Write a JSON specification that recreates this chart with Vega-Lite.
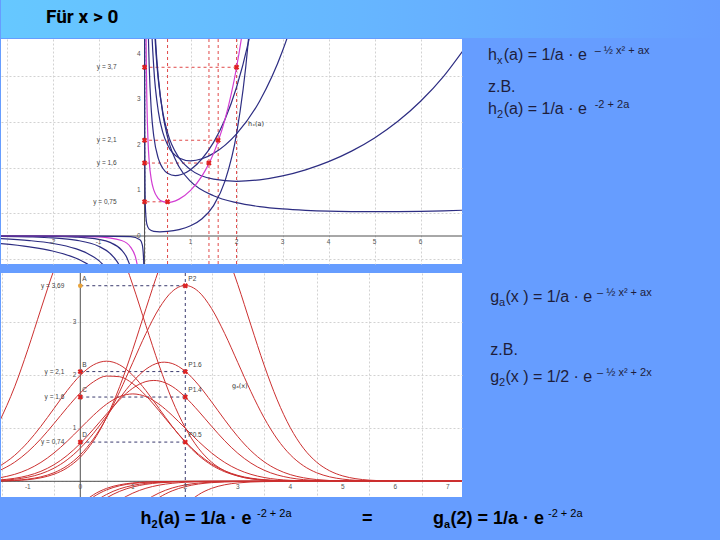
{
"$schema": "https://vega.github.io/schema/vega-lite/v6.json",
"background": "#669dff",
"padding": {"left": 0, "right": 0, "top": 0, "bottom": 0},
"config": {
  "view": {"stroke": null},
  "axis": {"labels": false, "ticks": false, "domain": false, "grid": true, "gridColor": "#d2d2d2", "gridDash": [2, 2], "gridWidth": 1},
  "concat": {"spacing": 0}
},
"spacing": 0,
"datasets": {
  "hx": [
    {"x":"0.2","b":"p","a":0.15,"h":6.73},{"x":"0.2","b":"p","a":0.2,"h":5.1},{"x":"0.2","b":"p","a":0.25,"h":4.12},{"x":"0.2","b":"p","a":0.3,"h":3.47},{"x":"0.2","b":"p","a":0.4,"h":2.654},{"x":"0.2","b":"p","a":0.5,"h":2.166},{"x":"0.2","b":"p","a":0.75,"h":1.518},{"x":"0.2","b":"p","a":1,"h":1.197},{"x":"0.2","b":"p","a":1.5,"h":0.882},{"x":"0.2","b":"p","a":2,"h":0.731},{"x":"0.2","b":"p","a":2.5,"h":0.646},{"x":"0.2","b":"p","a":3,"h":0.595},{"x":"0.2","b":"p","a":3.5,"h":0.564},{"x":"0.2","b":"p","a":4,"h":0.545},{"x":"0.2","b":"p","a":4.5,"h":0.536},{"x":"0.2","b":"p","a":5,"h":0.533},{"x":"0.2","b":"p","a":5.5,"h":0.535},{"x":"0.2","b":"p","a":6,"h":0.542},{"x":"0.2","b":"p","a":6.5,"h":0.553},{"x":"0.2","b":"p","a":7,"h":0.568},
    {"x":"0.2","b":"n","a":-3.2,"h":-0.162},{"x":"0.2","b":"n","a":-2.5,"h":-0.238},{"x":"0.2","b":"n","a":-2,"h":-0.328},{"x":"0.2","b":"n","a":-1.5,"h":-0.484},{"x":"0.2","b":"n","a":-1.25,"h":-0.611},{"x":"0.2","b":"n","a":-1,"h":-0.802},
    {"x":"0.5","b":"p","a":0.15,"h":6.34},{"x":"0.5","b":"p","a":0.2,"h":4.877},{"x":"0.5","b":"p","a":0.25,"h":4.0},{"x":"0.5","b":"p","a":0.3,"h":3.418},{"x":"0.5","b":"p","a":0.4,"h":2.695},{"x":"0.5","b":"p","a":0.5,"h":2.266},{"x":"0.5","b":"p","a":0.75,"h":1.712},{"x":"0.5","b":"p","a":1,"h":1.455},{"x":"0.5","b":"p","a":1.5,"h":1.246},{"x":"0.5","b":"p","a":2,"h":1.199},{"x":"0.5","b":"p","a":2.5,"h":1.232},{"x":"0.5","b":"p","a":3,"h":1.318},{"x":"0.5","b":"p","a":3.5,"h":1.451},{"x":"0.5","b":"p","a":4,"h":1.63},{"x":"0.5","b":"p","a":4.5,"h":1.861},{"x":"0.5","b":"p","a":5,"h":2.15},{"x":"0.5","b":"p","a":5.5,"h":2.51},{"x":"0.5","b":"p","a":6,"h":2.954},{"x":"0.5","b":"p","a":6.5,"h":3.501},{"x":"0.5","b":"p","a":7,"h":4.175},
    {"x":"0.5","b":"n","a":-3.2,"h":-0.0557},{"x":"0.5","b":"n","a":-2.5,"h":-0.1011},{"x":"0.5","b":"n","a":-2,"h":-0.1623},{"x":"0.5","b":"n","a":-1.5,"h":-0.2779},{"x":"0.5","b":"n","a":-1.25,"h":-0.378},{"x":"0.5","b":"n","a":-1,"h":-0.535},{"x":"0.5","b":"n","a":-0.8,"h":-0.739},
    {"x":"1","b":"p","a":0.1,"h":6.7},{"x":"1","b":"p","a":0.15,"h":4.698},{"x":"1","b":"p","a":0.2,"h":3.704},{"x":"1","b":"p","a":0.3,"h":2.729},{"x":"1","b":"p","a":0.4,"h":2.262},{"x":"1","b":"p","a":0.5,"h":2.0},{"x":"1","b":"p","a":0.75,"h":1.712},{"x":"1","b":"p","a":1,"h":1.649},{"x":"1","b":"p","a":1.25,"h":1.694},{"x":"1","b":"p","a":1.5,"h":1.812},{"x":"1","b":"p","a":2,"h":2.241},{"x":"1","b":"p","a":2.5,"h":2.955},{"x":"1","b":"p","a":3,"h":4.061},{"x":"1","b":"p","a":3.25,"h":4.813},{"x":"1","b":"p","a":3.5,"h":5.74},
    {"x":"1","b":"n","a":-3.2,"h":-0.0077},{"x":"1","b":"n","a":-2.5,"h":-0.0199},{"x":"1","b":"n","a":-2,"h":-0.041},{"x":"1","b":"n","a":-1.5,"h":-0.0902},{"x":"1","b":"n","a":-1,"h":-0.2231},{"x":"1","b":"n","a":-0.75,"h":-0.382},{"x":"1","b":"n","a":-0.6,"h":-0.5548},{"x":"1","b":"n","a":-0.5,"h":-0.7358},
    {"x":"1.5","b":"p","a":0.05,"h":7.0},{"x":"1.5","b":"p","a":0.075,"h":4.845},{"x":"1.5","b":"p","a":0.1,"h":3.772},{"x":"1.5","b":"p","a":0.15,"h":2.711},{"x":"1.5","b":"p","a":0.2,"h":2.192},{"x":"1.5","b":"p","a":0.3,"h":1.698},{"x":"1.5","b":"p","a":0.4,"h":1.479},{"x":"1.5","b":"p","a":0.5,"h":1.375},{"x":"1.5","b":"p","a":0.667,"h":1.323},{"x":"1.5","b":"p","a":0.8,"h":1.348},{"x":"1.5","b":"p","a":1,"h":1.455},{"x":"1.5","b":"p","a":1.25,"h":1.694},{"x":"1.5","b":"p","a":1.5,"h":2.054},{"x":"1.5","b":"p","a":1.75,"h":2.561},{"x":"1.5","b":"p","a":2,"h":3.261},{"x":"1.5","b":"p","a":2.25,"h":4.217},{"x":"1.5","b":"p","a":2.5,"h":5.522},
    {"x":"1.5","b":"n","a":-3.2,"h":-0.0008},{"x":"1.5","b":"n","a":-2,"h":-0.0081},{"x":"1.5","b":"n","a":-1.5,"h":-0.0228},{"x":"1.5","b":"n","a":-1,"h":-0.0724},{"x":"1.5","b":"n","a":-0.75,"h":-0.1406},{"x":"1.5","b":"n","a":-0.5,"h":-0.3068},{"x":"1.5","b":"n","a":-0.4,"h":-0.4455},{"x":"1.5","b":"n","a":-0.3,"h":-0.69},
    {"x":"2","b":"p","a":0.02,"h":7.04},{"x":"2","b":"p","a":0.03,"h":4.79},{"x":"2","b":"p","a":0.04,"h":3.665},{"x":"2","b":"p","a":0.05,"h":2.992},{"x":"2","b":"p","a":0.075,"h":2.097},{"x":"2","b":"p","a":0.1,"h":1.653},{"x":"2","b":"p","a":0.15,"h":1.218},{"x":"2","b":"p","a":0.2,"h":1.01},{"x":"2","b":"p","a":0.3,"h":0.822},{"x":"2","b":"p","a":0.4,"h":0.753},{"x":"2","b":"p","a":0.5,"h":0.736},{"x":"2","b":"p","a":0.6,"h":0.749},{"x":"2","b":"p","a":0.75,"h":0.809},{"x":"2","b":"p","a":1,"h":1.0},{"x":"2","b":"p","a":1.25,"h":1.319},{"x":"2","b":"p","a":1.4,"h":1.59},{"x":"2","b":"p","a":1.5,"h":1.812},{"x":"2","b":"p","a":1.6,"h":2.075},{"x":"2","b":"p","a":1.75,"h":2.561},{"x":"2","b":"p","a":2,"h":3.695},{"x":"2","b":"p","a":2.1,"h":4.298},{"x":"2","b":"p","a":2.2,"h":5.011},
    {"x":"2","b":"n","a":-3.2,"h":0},{"x":"2","b":"n","a":-2,"h":-0.0012},{"x":"2","b":"n","a":-1,"h":-0.0183},{"x":"2","b":"n","a":-0.5,"h":-0.0996},{"x":"2","b":"n","a":-0.3,"h":-0.2476},{"x":"2","b":"n","a":-0.2,"h":-0.4536},{"x":"2","b":"n","a":-0.15,"h":-0.6684},
    {"x":"3","b":"p","a":0.002,"h":5.57},{"x":"3","b":"p","a":0.0025,"h":4.477},{"x":"3","b":"p","a":0.003,"h":3.736},{"x":"3","b":"p","a":0.005,"h":2.255},{"x":"3","b":"p","a":0.01,"h":1.145},{"x":"3","b":"p","a":0.02,"h":0.59},{"x":"3","b":"p","a":0.05,"h":0.258},{"x":"3","b":"p","a":0.1,"h":0.15},{"x":"3","b":"p","a":0.2,"h":0.101},{"x":"3","b":"p","a":0.333,"h":0.0906},{"x":"3","b":"p","a":0.5,"h":0.0996},{"x":"3","b":"p","a":0.75,"h":0.1405},{"x":"3","b":"p","a":1,"h":0.2231},{"x":"3","b":"p","a":1.25,"h":0.378},{"x":"3","b":"p","a":1.5,"h":0.667},{"x":"3","b":"p","a":1.75,"h":1.21},{"x":"3","b":"p","a":2,"h":2.241},{"x":"3","b":"p","a":2.25,"h":4.217},{"x":"3","b":"p","a":2.4,"h":6.2},
    {"x":"3","b":"n","a":-3.2,"h":0},{"x":"3","b":"n","a":-1,"h":-0.0006},{"x":"3","b":"n","a":-0.3,"h":-0.0151},{"x":"3","b":"n","a":-0.1,"h":-0.0823},{"x":"3","b":"n","a":-0.05,"h":-0.191},{"x":"3","b":"n","a":-0.02,"h":-0.523},{"x":"3","b":"n","a":-0.01,"h":-1.08}
  ],
  "gx": [
    {"a":"0.2","x":-1.55,"g":1.103},{"a":"0.2","x":-1.25,"g":1.783},{"a":"0.2","x":-1,"g":2.483},{"a":"0.2","x":-0.75,"g":3.248},{"a":"0.2","x":-0.5,"g":3.992},{"a":"0.2","x":-0.25,"g":4.61},{"a":"0.2","x":0,"g":5},{"a":"0.2","x":0.25,"g":5.095},{"a":"0.2","x":0.5,"g":4.876},{"a":"0.2","x":0.75,"g":4.385},{"a":"0.2","x":1,"g":3.704},{"a":"0.2","x":1.25,"g":2.939},{"a":"0.2","x":1.5,"g":2.191},{"a":"0.2","x":1.75,"g":1.534},{"a":"0.2","x":2,"g":1.009},{"a":"0.2","x":2.25,"g":0.624},{"a":"0.2","x":2.5,"g":0.362},{"a":"0.2","x":2.75,"g":0.1975},{"a":"0.2","x":3,"g":0.1012},{"a":"0.2","x":3.5,"g":0.022},{"a":"0.2","x":4,"g":0.0037},{"a":"0.2","x":5,"g":0},{"a":"0.2","x":7.3,"g":0},
    {"a":"0.5","x":-1.55,"g":0.2771},{"a":"0.5","x":-1.25,"g":0.49},{"a":"0.5","x":-1,"g":0.7357},{"a":"0.5","x":-0.75,"g":1.0375},{"a":"0.5","x":-0.5,"g":1.3745},{"a":"0.5","x":-0.25,"g":1.7106},{"a":"0.5","x":0,"g":2},{"a":"0.5","x":0.25,"g":2.1965},{"a":"0.5","x":0.5,"g":2.2663},{"a":"0.5","x":0.75,"g":2.1965},{"a":"0.5","x":1,"g":2},{"a":"0.5","x":1.25,"g":1.7106},{"a":"0.5","x":1.5,"g":1.3745},{"a":"0.5","x":1.75,"g":1.0375},{"a":"0.5","x":2,"g":0.7358},{"a":"0.5","x":2.25,"g":0.49},{"a":"0.5","x":2.5,"g":0.3067},{"a":"0.5","x":2.75,"g":0.1803},{"a":"0.5","x":3,"g":0.0996},{"a":"0.5","x":3.5,"g":0.0252},{"a":"0.5","x":4,"g":0.005},{"a":"0.5","x":4.5,"g":0.0007},{"a":"0.5","x":5,"g":0},{"a":"0.5","x":7.3,"g":0},
    {"a":"0.6","x":-1.55,"g":0.1978},{"a":"0.6","x":-1.25,"g":0.3604},{"a":"0.6","x":-1,"g":0.5548},{"a":"0.6","x":-0.75,"g":0.8021},{"a":"0.6","x":-0.5,"g":1.0896},{"a":"0.6","x":-0.25,"g":1.3904},{"a":"0.6","x":0,"g":1.6667},{"a":"0.6","x":0.25,"g":1.8768},{"a":"0.6","x":0.5,"g":1.9853},{"a":"0.6","x":0.75,"g":1.973},{"a":"0.6","x":1,"g":1.842},{"a":"0.6","x":1.25,"g":1.6154},{"a":"0.6","x":1.5,"g":1.3308},{"a":"0.6","x":1.75,"g":1.03},{"a":"0.6","x":2,"g":0.7489},{"a":"0.6","x":2.25,"g":0.5115},{"a":"0.6","x":2.5,"g":0.3282},{"a":"0.6","x":2.75,"g":0.1978},{"a":"0.6","x":3,"g":0.112},{"a":"0.6","x":3.5,"g":0.0298},{"a":"0.6","x":4,"g":0.0062},{"a":"0.6","x":4.5,"g":0.001},{"a":"0.6","x":5,"g":0},{"a":"0.6","x":7.3,"g":0},
    {"a":"1","x":-1.55,"g":0.0639},{"a":"1","x":-1.25,"g":0.1312},{"a":"1","x":-1,"g":0.2231},{"a":"1","x":-0.75,"g":0.3566},{"a":"1","x":-0.5,"g":0.5353},{"a":"1","x":-0.25,"g":0.7548},{"a":"1","x":0,"g":1},{"a":"1","x":0.25,"g":1.2445},{"a":"1","x":0.5,"g":1.455},{"a":"1","x":0.75,"g":1.598},{"a":"1","x":1,"g":1.6487},{"a":"1","x":1.25,"g":1.598},{"a":"1","x":1.5,"g":1.455},{"a":"1","x":1.75,"g":1.2445},{"a":"1","x":2,"g":1},{"a":"1","x":2.25,"g":0.7548},{"a":"1","x":2.5,"g":0.5353},{"a":"1","x":2.75,"g":0.3566},{"a":"1","x":3,"g":0.2231},{"a":"1","x":3.25,"g":0.1312},{"a":"1","x":3.5,"g":0.0724},{"a":"1","x":4,"g":0.0183},{"a":"1","x":4.5,"g":0.0036},{"a":"1","x":5,"g":0.0006},{"a":"1","x":5.5,"g":0},{"a":"1","x":7.3,"g":0},
    {"a":"1.4","x":-1.55,"g":0.0245},{"a":"1.4","x":-1.25,"g":0.0568},{"a":"1.4","x":-1,"g":0.1068},{"a":"1.4","x":-0.75,"g":0.1887},{"a":"1.4","x":-0.5,"g":0.313},{"a":"1.4","x":-0.25,"g":0.4878},{"a":"1.4","x":0,"g":0.7143},{"a":"1.4","x":0.25,"g":0.9824},{"a":"1.4","x":0.5,"g":1.2693},{"a":"1.4","x":0.75,"g":1.5408},{"a":"1.4","x":1,"g":1.7568},{"a":"1.4","x":1.25,"g":1.882},{"a":"1.4","x":1.4,"g":1.903},{"a":"1.4","x":1.5,"g":1.8937},{"a":"1.4","x":1.75,"g":1.7902},{"a":"1.4","x":2,"g":1.5897},{"a":"1.4","x":2.25,"g":1.3262},{"a":"1.4","x":2.5,"g":1.0393},{"a":"1.4","x":2.75,"g":0.765},{"a":"1.4","x":3,"g":0.5291},{"a":"1.4","x":3.25,"g":0.3438},{"a":"1.4","x":3.5,"g":0.2098},{"a":"1.4","x":3.75,"g":0.1203},{"a":"1.4","x":4,"g":0.0648},{"a":"1.4","x":4.5,"g":0.0156},{"a":"1.4","x":5,"g":0.0029},{"a":"1.4","x":5.5,"g":0.0004},{"a":"1.4","x":6,"g":0},{"a":"1.4","x":7.3,"g":0},
    {"a":"1.6","x":-1.55,"g":0.0157},{"a":"1.6","x":-1.25,"g":0.0387},{"a":"1.6","x":-1,"g":0.0765},{"a":"1.6","x":-0.75,"g":0.1421},{"a":"1.6","x":-0.5,"g":0.2478},{"a":"1.6","x":-0.25,"g":0.406},{"a":"1.6","x":0,"g":0.625},{"a":"1.6","x":0.25,"g":0.9037},{"a":"1.6","x":0.5,"g":1.2275},{"a":"1.6","x":0.75,"g":1.5664},{"a":"1.6","x":1,"g":1.8776},{"a":"1.6","x":1.25,"g":2.1145},{"a":"1.6","x":1.5,"g":2.2367},{"a":"1.6","x":1.6,"g":2.2479},{"a":"1.6","x":1.75,"g":2.2228},{"a":"1.6","x":2,"g":2.0751},{"a":"1.6","x":2.25,"g":1.8199},{"a":"1.6","x":2.5,"g":1.4993},{"a":"1.6","x":2.75,"g":1.1604},{"a":"1.6","x":3,"g":0.8437},{"a":"1.6","x":3.25,"g":0.5762},{"a":"1.6","x":3.5,"g":0.3697},{"a":"1.6","x":3.75,"g":0.2229},{"a":"1.6","x":4,"g":0.1262},{"a":"1.6","x":4.25,"g":0.0671},{"a":"1.6","x":4.5,"g":0.0335},{"a":"1.6","x":5,"g":0.0069},{"a":"1.6","x":5.5,"g":0.0011},{"a":"1.6","x":6,"g":0},{"a":"1.6","x":7.3,"g":0},
    {"a":"2","x":-1.55,"g":0.0068},{"a":"2","x":-1.25,"g":0.0188},{"a":"2","x":-1,"g":0.041},{"a":"2","x":-0.75,"g":0.0842},{"a":"2","x":-0.5,"g":0.1623},{"a":"2","x":-0.25,"g":0.2939},{"a":"2","x":0,"g":0.5},{"a":"2","x":0.25,"g":0.799},{"a":"2","x":0.5,"g":1.1995},{"a":"2","x":0.75,"g":1.6914},{"a":"2","x":1,"g":2.2408},{"a":"2","x":1.25,"g":2.7888},{"a":"2","x":1.5,"g":3.2606},{"a":"2","x":1.75,"g":3.5811},{"a":"2","x":2,"g":3.6945},{"a":"2","x":2.25,"g":3.5811},{"a":"2","x":2.5,"g":3.2606},{"a":"2","x":2.75,"g":2.7888},{"a":"2","x":3,"g":2.2408},{"a":"2","x":3.25,"g":1.6914},{"a":"2","x":3.5,"g":1.1995},{"a":"2","x":3.75,"g":0.799},{"a":"2","x":4,"g":0.5},{"a":"2","x":4.25,"g":0.2939},{"a":"2","x":4.5,"g":0.1623},{"a":"2","x":4.75,"g":0.0842},{"a":"2","x":5,"g":0.041},{"a":"2","x":5.25,"g":0.0188},{"a":"2","x":5.5,"g":0.0081},{"a":"2","x":6,"g":0.0012},{"a":"2","x":6.5,"g":0.0001},{"a":"2","x":7.3,"g":0},
    {"a":"2.2","x":-1.55,"g":0.0045},{"a":"2.2","x":-1.25,"g":0.0133},{"a":"2.2","x":-1,"g":0.0306},{"a":"2.2","x":-0.75,"g":0.0659},{"a":"2.2","x":-0.5,"g":0.1335},{"a":"2.2","x":-0.25,"g":0.2542},{"a":"2.2","x":0,"g":0.4545},{"a":"2.2","x":0.25,"g":0.7635},{"a":"2.2","x":0.5,"g":1.205},{"a":"2.2","x":0.75,"g":1.7866},{"a":"2.2","x":1,"g":2.488},{"a":"2.2","x":1.25,"g":3.2554},{"a":"2.2","x":1.5,"g":4.0008},{"a":"2.2","x":1.75,"g":4.62},{"a":"2.2","x":2,"g":5.01},{"a":"2.2","x":2.25,"g":5.105},{"a":"2.2","x":2.5,"g":4.887},{"a":"2.2","x":2.75,"g":4.394},{"a":"2.2","x":3,"g":3.7117},{"a":"2.2","x":3.25,"g":2.9455},{"a":"2.2","x":3.5,"g":2.1958},{"a":"2.2","x":3.75,"g":1.5377},{"a":"2.2","x":4,"g":1.0116},{"a":"2.2","x":4.25,"g":0.6251},{"a":"2.2","x":4.5,"g":0.363},{"a":"2.2","x":4.75,"g":0.198},{"a":"2.2","x":5,"g":0.1014},{"a":"2.2","x":5.25,"g":0.0488},{"a":"2.2","x":5.5,"g":0.0221},{"a":"2.2","x":6,"g":0.0037},{"a":"2.2","x":6.5,"g":0.0005},{"a":"2.2","x":7.3,"g":0},
    {"a":"-0.2","x":1.75,"g":-0.762},{"a":"-0.2","x":2,"g":-0.4536},{"a":"-0.2","x":2.25,"g":-0.2536},{"a":"-0.2","x":2.5,"g":-0.1332},{"a":"-0.2","x":2.75,"g":-0.0657},{"a":"-0.2","x":3,"g":-0.0305},{"a":"-0.2","x":3.5,"g":-0.0054},{"a":"-0.2","x":4,"g":-0.0008},{"a":"-0.2","x":4.5,"g":0},{"a":"-0.2","x":7.3,"g":0},
    {"a":"-0.5","x":1,"g":-0.7358},{"a":"-0.5","x":1.25,"g":-0.4902},{"a":"-0.5","x":1.5,"g":-0.3067},{"a":"-0.5","x":1.75,"g":-0.1803},{"a":"-0.5","x":2,"g":-0.0996},{"a":"-0.5","x":2.25,"g":-0.0516},{"a":"-0.5","x":2.5,"g":-0.0252},{"a":"-0.5","x":3,"g":-0.005},{"a":"-0.5","x":3.5,"g":-0.0008},{"a":"-0.5","x":4,"g":0},{"a":"-0.5","x":7.3,"g":0},
    {"a":"-0.6","x":1,"g":-0.5548},{"a":"-0.6","x":1.25,"g":-0.3604},{"a":"-0.6","x":1.5,"g":-0.22},{"a":"-0.6","x":1.75,"g":-0.1261},{"a":"-0.6","x":2,"g":-0.0679},{"a":"-0.6","x":2.5,"g":-0.0163},{"a":"-0.6","x":3,"g":-0.0031},{"a":"-0.6","x":3.5,"g":-0.0005},{"a":"-0.6","x":4,"g":0},{"a":"-0.6","x":7.3,"g":0},
    {"a":"-1","x":0.25,"g":-0.7548},{"a":"-1","x":0.5,"g":-0.5353},{"a":"-1","x":0.75,"g":-0.3566},{"a":"-1","x":1,"g":-0.2231},{"a":"-1","x":1.25,"g":-0.1312},{"a":"-1","x":1.5,"g":-0.0724},{"a":"-1","x":1.75,"g":-0.0376},{"a":"-1","x":2,"g":-0.0183},{"a":"-1","x":2.5,"g":-0.0036},{"a":"-1","x":3,"g":-0.0006},{"a":"-1","x":3.5,"g":0},{"a":"-1","x":7.3,"g":0},
    {"a":"-1.4","x":0,"g":-0.7143},{"a":"-1.4","x":0.25,"g":-0.4878},{"a":"-1.4","x":0.5,"g":-0.313},{"a":"-1.4","x":0.75,"g":-0.1887},{"a":"-1.4","x":1,"g":-0.1068},{"a":"-1.4","x":1.25,"g":-0.0568},{"a":"-1.4","x":1.5,"g":-0.0284},{"a":"-1.4","x":1.75,"g":-0.0133},{"a":"-1.4","x":2,"g":-0.0059},{"a":"-1.4","x":2.5,"g":-0.001},{"a":"-1.4","x":3,"g":0},{"a":"-1.4","x":7.3,"g":0},
    {"a":"-1.6","x":0,"g":-0.625},{"a":"-1.6","x":0.25,"g":-0.406},{"a":"-1.6","x":0.5,"g":-0.2478},{"a":"-1.6","x":0.75,"g":-0.1421},{"a":"-1.6","x":1,"g":-0.0765},{"a":"-1.6","x":1.25,"g":-0.0387},{"a":"-1.6","x":1.5,"g":-0.0184},{"a":"-1.6","x":2,"g":-0.0035},{"a":"-1.6","x":2.5,"g":-0.0005},{"a":"-1.6","x":3,"g":0},{"a":"-1.6","x":7.3,"g":0},
    {"a":"-2","x":0,"g":-0.5},{"a":"-2","x":0.1,"g":-0.407},{"a":"-2","x":0.25,"g":-0.2939},{"a":"-2","x":0.5,"g":-0.1623},{"a":"-2","x":0.75,"g":-0.0842},{"a":"-2","x":1,"g":-0.041},{"a":"-2","x":1.25,"g":-0.0188},{"a":"-2","x":1.5,"g":-0.0081},{"a":"-2","x":2,"g":-0.0012},{"a":"-2","x":2.5,"g":-0.0001},{"a":"-2","x":3,"g":0},{"a":"-2","x":7.3,"g":0},
    {"a":"-2.2","x":0,"g":-0.4545},{"a":"-2.2","x":0.1,"g":-0.363},{"a":"-2.2","x":0.25,"g":-0.2542},{"a":"-2.2","x":0.5,"g":-0.1335},{"a":"-2.2","x":0.75,"g":-0.0659},{"a":"-2.2","x":1,"g":-0.0306},{"a":"-2.2","x":1.25,"g":-0.0133},{"a":"-2.2","x":1.5,"g":-0.0054},{"a":"-2.2","x":2,"g":-0.0008},{"a":"-2.2","x":3,"g":0},{"a":"-2.2","x":7.3,"g":0}
  ],
  "hg": [
    {"a":2,"h":3.7,"yl":"y = 3,7"},{"a":1.6,"h":2.1,"yl":"y = 2,1"},{"a":1.4,"h":1.6,"yl":"y = 1,6"},{"a":0.5,"h":0.75,"yl":"y = 0,75"}
  ],
  "gg": [
    {"x":2,"g":3.69,"pl":"P2","yl":"y = 3,69","ql":"A"},{"x":2,"g":2.07,"pl":"P1.6","yl":"y = 2,1","ql":"B"},{"x":2,"g":1.59,"pl":"P1.4","yl":"y = 1,6","ql":"C"},{"x":2,"g":0.74,"pl":"P0.5","yl":"y = 0,74","ql":"D"}
  ],
  "htx": [{"v":-2,"t":"-2"},{"v":-1,"t":"-1"},{"v":1,"t":"1"},{"v":2,"t":"2"},{"v":3,"t":"3"},{"v":4,"t":"4"},{"v":5,"t":"5"},{"v":6,"t":"6"}],
  "hty": [{"v":0,"t":"0"},{"v":1,"t":"1"},{"v":2,"t":"2"},{"v":3,"t":"3"},{"v":4,"t":"4"}],
  "gtx": [{"v":-1,"t":"-1"},{"v":0,"t":"0"},{"v":1,"t":"1"},{"v":2,"t":"2"},{"v":3,"t":"3"},{"v":4,"t":"4"},{"v":5,"t":"5"},{"v":6,"t":"6"},{"v":7,"t":"7"}],
  "gty": [{"v":1,"t":"1"},{"v":2,"t":"2"},{"v":3,"t":"3"}],
  "t1": [
    {"ln":1,"role":"head","t":"h"},{"ln":1,"role":"sub","t":"x"},{"ln":1,"role":"rest","t":"(a) = 1/a · e"},{"ln":1,"role":"sup","t":"– ½ x² + ax"},
    {"ln":2,"role":"note","t":"z.B."},
    {"ln":3,"role":"head","t":"h"},{"ln":3,"role":"sub","t":"2"},{"ln":3,"role":"rest","t":"(a) = 1/a · e"},{"ln":3,"role":"sup","t":"-2 + 2a"}
  ],
  "t2": [
    {"ln":1,"role":"head","t":"g"},{"ln":1,"role":"sub","t":"a"},{"ln":1,"role":"rest","t":"(x ) = 1/a · e"},{"ln":1,"role":"sup","t":"– ½ x² + ax"},
    {"ln":2,"role":"note","t":"z.B."},
    {"ln":3,"role":"head","t":"g"},{"ln":3,"role":"sub","t":"2"},{"ln":3,"role":"rest","t":"(x ) = 1/2 · e"},{"ln":3,"role":"sup","t":"– ½ x² + 2x"}
  ],
  "t3": [
    {"ln":1,"role":"hHead","t":"h"},{"ln":1,"role":"hSub","t":"2"},{"ln":1,"role":"hRest","t":"(a) = 1/a · e"},{"ln":1,"role":"hSup","t":"-2 + 2a"},
    {"ln":1,"role":"eq","t":"="},
    {"ln":1,"role":"gHead","t":"g"},{"ln":1,"role":"gSub","t":"a"},{"ln":1,"role":"gRest","t":"(2) = 1/a · e"},{"ln":1,"role":"gSup","t":"-2 + 2a"}
  ]
},
"vconcat": [
  {
    "width": 720, "height": 38,
    "data": {"values": [{"t": "Für x > 0"}]},
    "layer": [
      {"mark": {"type": "rect", "color": {"gradient": "linear", "x1": 0, "y1": 0, "x2": 1, "y2": 0, "stops": [{"offset": 0, "color": "#66c8ff"}, {"offset": 0.5, "color": "#66b6ff"}, {"offset": 1, "color": "#669dff"}]}},
       "encoding": {}},
      {"mark": {"type": "text", "align": "left", "baseline": "middle", "dx": 45, "dy": -2, "font": "Roboto, Liberation Sans, sans-serif", "fontSize": 19, "fontWeight": "bold", "color": "#000000"},
       "encoding": {"x": {"datum": 0, "type": "quantitative", "scale": {"domain": [0, 1]}, "axis": null}, "y": {"datum": 0.5, "type": "quantitative", "scale": {"domain": [0, 1]}, "axis": null}, "text": {"field": "t"}}}
    ]
  },
  {
  "spacing": 7,
  "vconcat": [
  {
    "spacing": 0,
    "hconcat": [
      {
        "width": 461, "height": 225,
        "view": {"fill": "#ffffff", "stroke": null},
        "layer": [
          {"data": {"values": [{"v": 0}]}, "mark": {"type": "rule", "color": "#505050", "strokeWidth": 1},
           "encoding": {"x": {"field": "v", "type": "quantitative", "title": null, "scale": {"domain": [-3.12, 6.9], "nice": false, "zero": false}, "axis": {"values": [-3,-2.5,-2,-1.5,-1,-0.5,0,0.5,1,1.5,2,2.5,3,3.5,4,4.5,5,5.5,6,6.5]}}}},
          {"data": {"values": [{"v": 0}]}, "mark": {"type": "rule", "color": "#505050", "strokeWidth": 1},
           "encoding": {"y": {"field": "v", "type": "quantitative", "title": null, "scale": {"domain": [-0.614, 4.32], "nice": false, "zero": false}, "axis": {"values": [-0.5,0,0.5,1,1.5,2,2.5,3,3.5,4]}}}},
          {"data": {"name": "hg"}, "mark": {"type": "rule", "color": "#e04848", "strokeDash": [3, 3], "strokeWidth": 1},
           "encoding": {"x": {"field": "a", "type": "quantitative", "title": null}}},
          {"data": {"name": "hg"}, "mark": {"type": "rule", "color": "#e04848", "strokeDash": [3, 3], "strokeWidth": 1},
           "encoding": {"x": {"field": "a", "type": "quantitative", "title": null}, "x2": {"datum": 0}, "y": {"field": "h", "type": "quantitative", "title": null}}},
          {"data": {"name": "hx"}, "mark": {"type": "line", "clip": true, "strokeWidth": 1.2, "interpolate": "monotone"},
           "encoding": {
             "x": {"field": "a", "type": "quantitative", "title": null},
             "y": {"field": "h", "type": "quantitative", "title": null},
             "color": {"field": "x", "type": "nominal", "legend": null, "scale": {"domain": ["0.2","0.5","1","1.5","2","3"], "range": ["#2d2d82","#2d2d82","#2d2d82","#2d2d82","#d23cd2","#2d2d82"]}},
             "detail": {"field": "b", "type": "nominal"}}},
          {"data": {"name": "hg"}, "mark": {"type": "point", "shape": "cross", "angle": 45, "filled": true, "size": 30, "color": "#e02020", "opacity": 1},
           "encoding": {"x": {"datum": 0, "type": "quantitative", "title": null}, "y": {"field": "h", "type": "quantitative", "title": null}}},
          {"data": {"name": "hg"}, "mark": {"type": "point", "shape": "cross", "angle": 45, "filled": true, "size": 30, "color": "#e02020", "opacity": 1},
           "encoding": {"x": {"field": "a", "type": "quantitative", "title": null}, "y": {"field": "h", "type": "quantitative", "title": null}}},
          {"data": {"name": "hg"}, "mark": {"type": "text", "align": "right", "baseline": "middle", "dx": -28, "font": "Liberation Sans", "fontSize": 6.5, "color": "#444444"},
           "encoding": {"x": {"datum": 0, "type": "quantitative", "title": null}, "y": {"field": "h", "type": "quantitative", "title": null}, "text": {"field": "yl"}}},
          {"data": {"name": "htx"}, "mark": {"type": "text", "align": "center", "baseline": "top", "dy": 3, "font": "Liberation Sans", "fontSize": 6.5, "color": "#555555"},
           "encoding": {"x": {"field": "v", "type": "quantitative", "title": null}, "y": {"datum": 0, "type": "quantitative", "title": null}, "text": {"field": "t"}}},
          {"data": {"name": "hty"}, "mark": {"type": "text", "align": "right", "baseline": "middle", "dx": -4, "font": "Liberation Sans", "fontSize": 6.5, "color": "#555555"},
           "encoding": {"x": {"datum": 0, "type": "quantitative", "title": null}, "y": {"field": "v", "type": "quantitative", "title": null}, "text": {"field": "t"}}},
          {"data": {"values": [{"a": 2.25, "h": 2.45, "t": "hₓ(a)"}]}, "mark": {"type": "text", "align": "left", "baseline": "middle", "font": "DejaVu Sans", "fontSize": 6.5, "color": "#333333"},
           "encoding": {"x": {"field": "a", "type": "quantitative", "title": null}, "y": {"field": "h", "type": "quantitative", "title": null}, "text": {"field": "t"}}}
        ]
      },
      {
        "width": 259, "height": 225,
        "data": {"name": "t1"},
        "layer": [
          {"transform": [{"filter": "datum.role === 'head'"}], "mark": {"type": "text", "align": "left", "baseline": "alphabetic", "font": "Liberation Sans", "fontSize": 16, "color": "#1e1e3c", "dx": 25},
           "encoding": {"x": {"datum": 0, "type": "quantitative", "scale": {"domain": [0, 1]}, "axis": null}, "y": {"field": "ln", "type": "quantitative", "scale": {"domain": [0.211, 8.544], "reverse": true, "nice": false, "zero": false}, "axis": null}, "text": {"field": "t"}}},
          {"transform": [{"filter": "datum.role === 'note'"}], "mark": {"type": "text", "align": "left", "baseline": "alphabetic", "font": "Liberation Sans", "fontSize": 16, "color": "#1e1e3c", "dx": 25, "dy": 5},
           "encoding": {"x": {"datum": 0, "type": "quantitative", "axis": null}, "y": {"field": "ln", "type": "quantitative", "axis": null}, "text": {"field": "t"}}},
          {"transform": [{"filter": "datum.role === 'sub'"}], "mark": {"type": "text", "align": "left", "baseline": "alphabetic", "font": "Liberation Sans", "fontSize": 11, "color": "#1e1e3c", "dx": 34, "dy": 3.5},
           "encoding": {"x": {"datum": 0, "type": "quantitative", "axis": null}, "y": {"field": "ln", "type": "quantitative", "axis": null}, "text": {"field": "t"}}},
          {"transform": [{"filter": "datum.role === 'rest'"}], "mark": {"type": "text", "align": "left", "baseline": "alphabetic", "font": "Liberation Sans", "fontSize": 16, "color": "#1e1e3c", "dx": 40.7},
           "encoding": {"x": {"datum": 0, "type": "quantitative", "axis": null}, "y": {"field": "ln", "type": "quantitative", "axis": null}, "text": {"field": "t"}}},
          {"transform": [{"filter": "datum.role === 'sup'"}], "mark": {"type": "text", "align": "left", "baseline": "alphabetic", "font": "Liberation Sans", "fontSize": 11, "color": "#1e1e3c", "dx": 131.7, "dy": -6.5},
           "encoding": {"x": {"datum": 0, "type": "quantitative", "axis": null}, "y": {"field": "ln", "type": "quantitative", "axis": null}, "text": {"field": "t"}}}
        ]
      }
    ]
  },
  {
    "spacing": 0,
    "hconcat": [
      {
        "width": 461, "height": 224,
        "view": {"fill": "#ffffff", "stroke": null},
        "layer": [
          {"data": {"values": [{"v": 0}]}, "mark": {"type": "rule", "color": "#505050", "strokeWidth": 1},
           "encoding": {"x": {"field": "v", "type": "quantitative", "title": null, "scale": {"domain": [-1.51, 7.27], "nice": false, "zero": false}, "axis": {"values": [-1.5,-1,-0.5,0,0.5,1,1.5,2,2.5,3,3.5,4,4.5,5,5.5,6,6.5,7]}}}},
          {"data": {"values": [{"v": 0}]}, "mark": {"type": "rule", "color": "#505050", "strokeWidth": 1},
           "encoding": {"y": {"field": "v", "type": "quantitative", "title": null, "scale": {"domain": [-0.296, 3.93], "nice": false, "zero": false}, "axis": {"values": [0,0.5,1,1.5,2,2.5,3,3.5]}}}},
          {"data": {"name": "gg"}, "mark": {"type": "rule", "color": "#3a3a6e", "strokeDash": [3, 3], "strokeWidth": 1},
           "encoding": {"x": {"field": "x", "type": "quantitative", "title": null}, "x2": {"datum": 0}, "y": {"field": "g", "type": "quantitative", "title": null}}},
          {"data": {"values": [{"x": 2}]}, "mark": {"type": "rule", "color": "#3a3a6e", "strokeDash": [3, 3], "strokeWidth": 1},
           "encoding": {"x": {"field": "x", "type": "quantitative", "title": null}}},
          {"data": {"name": "gx"}, "mark": {"type": "line", "clip": true, "strokeWidth": 1, "interpolate": "monotone", "color": "#cc3030"},
           "encoding": {
             "x": {"field": "x", "type": "quantitative", "title": null},
             "y": {"field": "g", "type": "quantitative", "title": null},
             "detail": {"field": "a", "type": "nominal"}}},
          {"data": {"name": "gg"}, "transform": [{"filter": "datum.ql !== 'A'"}], "mark": {"type": "point", "shape": "cross", "angle": 45, "filled": true, "size": 30, "color": "#dd2222", "opacity": 1},
           "encoding": {"x": {"datum": 0, "type": "quantitative", "title": null}, "y": {"field": "g", "type": "quantitative", "title": null}}},
          {"data": {"name": "gg"}, "transform": [{"filter": "datum.ql === 'A'"}], "mark": {"type": "point", "shape": "circle", "filled": true, "size": 22, "color": "#e8a33a", "opacity": 1},
           "encoding": {"x": {"datum": 0, "type": "quantitative", "title": null}, "y": {"field": "g", "type": "quantitative", "title": null}}},
          {"data": {"name": "gg"}, "mark": {"type": "point", "shape": "cross", "angle": 45, "filled": true, "size": 30, "color": "#dd2222", "opacity": 1},
           "encoding": {"x": {"field": "x", "type": "quantitative", "title": null}, "y": {"field": "g", "type": "quantitative", "title": null}}},
          {"data": {"name": "gg"}, "mark": {"type": "text", "align": "right", "baseline": "middle", "dx": -16, "font": "Liberation Sans", "fontSize": 6.5, "color": "#444444"},
           "encoding": {"x": {"datum": 0, "type": "quantitative", "title": null}, "y": {"field": "g", "type": "quantitative", "title": null}, "text": {"field": "yl"}}},
          {"data": {"name": "gg"}, "mark": {"type": "text", "align": "left", "baseline": "middle", "dx": 3, "dy": -7, "font": "Liberation Sans", "fontSize": 6.5, "color": "#444444"},
           "encoding": {"x": {"field": "x", "type": "quantitative", "title": null}, "y": {"field": "g", "type": "quantitative", "title": null}, "text": {"field": "pl"}}},
          {"data": {"name": "gg"}, "mark": {"type": "text", "align": "left", "baseline": "middle", "dx": 2, "dy": -7, "font": "Liberation Sans", "fontSize": 6.5, "color": "#444444"},
           "encoding": {"x": {"datum": 0, "type": "quantitative", "title": null}, "y": {"field": "g", "type": "quantitative", "title": null}, "text": {"field": "ql"}}},
          {"data": {"name": "gtx"}, "mark": {"type": "text", "align": "center", "baseline": "top", "dy": 3, "font": "Liberation Sans", "fontSize": 6.5, "color": "#555555"},
           "encoding": {"x": {"field": "v", "type": "quantitative", "title": null}, "y": {"datum": 0, "type": "quantitative", "title": null}, "text": {"field": "t"}}},
          {"data": {"name": "gty"}, "mark": {"type": "text", "align": "right", "baseline": "middle", "dx": -4, "font": "Liberation Sans", "fontSize": 6.5, "color": "#555555"},
           "encoding": {"x": {"datum": 0, "type": "quantitative", "title": null}, "y": {"field": "v", "type": "quantitative", "title": null}, "text": {"field": "t"}}},
          {"data": {"values": [{"x": 2.89, "g": 1.8, "t": "gₐ(x)"}]}, "mark": {"type": "text", "align": "left", "baseline": "middle", "font": "DejaVu Sans", "fontSize": 6.5, "color": "#333333"},
           "encoding": {"x": {"field": "x", "type": "quantitative", "title": null}, "y": {"field": "g", "type": "quantitative", "title": null}, "text": {"field": "t"}}}
        ]
      },
      {
        "width": 259, "height": 224,
        "data": {"name": "t2"},
        "layer": [
          {"transform": [{"filter": "datum.role === 'head'"}], "mark": {"type": "text", "align": "left", "baseline": "alphabetic", "font": "Liberation Sans", "fontSize": 16, "color": "#1e1e3c", "dx": 27.3},
           "encoding": {"x": {"datum": 0, "type": "quantitative", "scale": {"domain": [0, 1]}, "axis": null}, "y": {"field": "ln", "type": "quantitative", "scale": {"domain": [0.275, 5.875], "reverse": true, "nice": false, "zero": false}, "axis": null}, "text": {"field": "t"}}},
          {"transform": [{"filter": "datum.role === 'note'"}], "mark": {"type": "text", "align": "left", "baseline": "alphabetic", "font": "Liberation Sans", "fontSize": 16, "color": "#1e1e3c", "dx": 27.3, "dy": 12.7},
           "encoding": {"x": {"datum": 0, "type": "quantitative", "axis": null}, "y": {"field": "ln", "type": "quantitative", "axis": null}, "text": {"field": "t"}}},
          {"transform": [{"filter": "datum.role === 'sub'"}], "mark": {"type": "text", "align": "left", "baseline": "alphabetic", "font": "Liberation Sans", "fontSize": 11, "color": "#1e1e3c", "dx": 36, "dy": 3.5},
           "encoding": {"x": {"datum": 0, "type": "quantitative", "axis": null}, "y": {"field": "ln", "type": "quantitative", "axis": null}, "text": {"field": "t"}}},
          {"transform": [{"filter": "datum.role === 'rest'"}], "mark": {"type": "text", "align": "left", "baseline": "alphabetic", "font": "Liberation Sans", "fontSize": 16, "color": "#1e1e3c", "dx": 42.5},
           "encoding": {"x": {"datum": 0, "type": "quantitative", "axis": null}, "y": {"field": "ln", "type": "quantitative", "axis": null}, "text": {"field": "t"}}},
          {"transform": [{"filter": "datum.role === 'sup'"}], "mark": {"type": "text", "align": "left", "baseline": "alphabetic", "font": "Liberation Sans", "fontSize": 11, "color": "#1e1e3c", "dx": 134, "dy": -6},
           "encoding": {"x": {"datum": 0, "type": "quantitative", "axis": null}, "y": {"field": "ln", "type": "quantitative", "axis": null}, "text": {"field": "t"}}}
        ]
      }
    ]
  },
  {
    "width": 720, "height": 39,
    "data": {"name": "t3"},
    "layer": [
      {"transform": [{"filter": "datum.role === 'hHead'"}], "mark": {"type": "text", "align": "left", "baseline": "alphabetic", "font": "Liberation Sans", "fontSize": 18, "fontWeight": "bold", "color": "#000000", "dx": 139.5},
       "encoding": {"x": {"datum": 0, "type": "quantitative", "scale": {"domain": [0, 1]}, "axis": null}, "y": {"field": "ln", "type": "quantitative", "scale": {"domain": [0, 2.0526], "reverse": true, "nice": false, "zero": false}, "axis": null}, "text": {"field": "t"}}},
      {"transform": [{"filter": "datum.role === 'hSub'"}], "mark": {"type": "text", "align": "left", "baseline": "alphabetic", "font": "Liberation Sans", "fontSize": 11, "fontWeight": "bold", "color": "#000000", "dx": 150.5, "dy": 4},
       "encoding": {"x": {"datum": 0, "type": "quantitative", "axis": null}, "y": {"field": "ln", "type": "quantitative", "axis": null}, "text": {"field": "t"}}},
      {"transform": [{"filter": "datum.role === 'hRest'"}], "mark": {"type": "text", "align": "left", "baseline": "alphabetic", "font": "Liberation Sans", "fontSize": 18, "fontWeight": "bold", "color": "#000000", "dx": 157}},
      {"transform": [{"filter": "datum.role === 'hSup'"}], "mark": {"type": "text", "align": "left", "baseline": "alphabetic", "font": "Liberation Sans", "fontSize": 11, "color": "#000000", "dx": 256, "dy": -7}},
      {"transform": [{"filter": "datum.role === 'eq'"}], "mark": {"type": "text", "align": "left", "baseline": "alphabetic", "font": "Liberation Sans", "fontSize": 18, "fontWeight": "bold", "color": "#000000", "dx": 361}},
      {"transform": [{"filter": "datum.role === 'gHead'"}], "mark": {"type": "text", "align": "left", "baseline": "alphabetic", "font": "Liberation Sans", "fontSize": 18, "fontWeight": "bold", "color": "#000000", "dx": 432}},
      {"transform": [{"filter": "datum.role === 'gSub'"}], "mark": {"type": "text", "align": "left", "baseline": "alphabetic", "font": "Liberation Sans", "fontSize": 11, "fontWeight": "bold", "color": "#000000", "dx": 443, "dy": 4}},
      {"transform": [{"filter": "datum.role === 'gRest'"}], "mark": {"type": "text", "align": "left", "baseline": "alphabetic", "font": "Liberation Sans", "fontSize": 18, "fontWeight": "bold", "color": "#000000", "dx": 449.5}},
      {"transform": [{"filter": "datum.role === 'gSup'"}], "mark": {"type": "text", "align": "left", "baseline": "alphabetic", "font": "Liberation Sans", "fontSize": 11, "color": "#000000", "dx": 547, "dy": -7}}
    ],
    "encoding": {"x": {"datum": 0, "type": "quantitative", "axis": null}, "y": {"field": "ln", "type": "quantitative", "axis": null}, "text": {"field": "t"}}
  }
  ]
  }
]
}
